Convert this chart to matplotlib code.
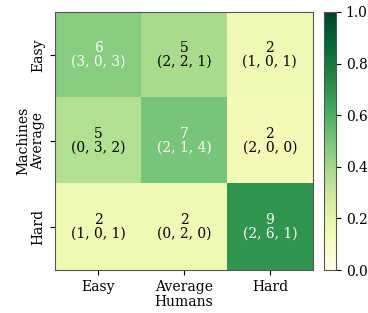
import numpy as np
import matplotlib.pyplot as plt

plt.rcParams['font.family'] = 'DejaVu Serif'

labels = ["Easy", "Average", "Hard"]
counts = [[6, 5, 2],
          [5, 7, 2],
          [2, 2, 9]]
breakdown = [["(3, 0, 3)", "(2, 2, 1)", "(1, 0, 1)"],
             ["(0, 3, 2)", "(2, 1, 4)", "(2, 0, 0)"],
             ["(1, 0, 1)", "(0, 2, 0)", "(2, 6, 1)"]]

counts = np.array(counts)
norm = counts / counts.sum(axis=1, keepdims=True)

fig = plt.figure(figsize=(3.68, 3.13), dpi=100)
ax = fig.add_axes([0.15, 0.137, 0.70, 0.825])
cax = fig.add_axes([0.88, 0.137, 0.033, 0.825])

im = ax.imshow(norm, cmap='YlGn', vmin=0, vmax=1, aspect='auto')
for i in range(3):
    for j in range(3):
        c = 'white' if norm[i, j] > 0.4 else 'black'
        ax.text(j, i, f"{counts[i, j]}\n{breakdown[i][j]}", ha='center', va='center',
                color=c, fontsize=10, linespacing=1.0)

ax.set_xticks(range(3))
ax.set_xticklabels(labels)
ax.set_yticks(range(3))
ax.set_yticklabels(labels, rotation=90, va='center')
ax.set_xlabel("Humans", labelpad=1)
ax.set_ylabel("Machines", labelpad=1)
for s in ax.spines.values():
    s.set_color('#555555')

cb = fig.colorbar(im, cax=cax)
cb.outline.set_edgecolor('#555555')
cb.set_ticks([0, 0.2, 0.4, 0.6, 0.8, 1.0])

fig.savefig("out.png", dpi=100)
